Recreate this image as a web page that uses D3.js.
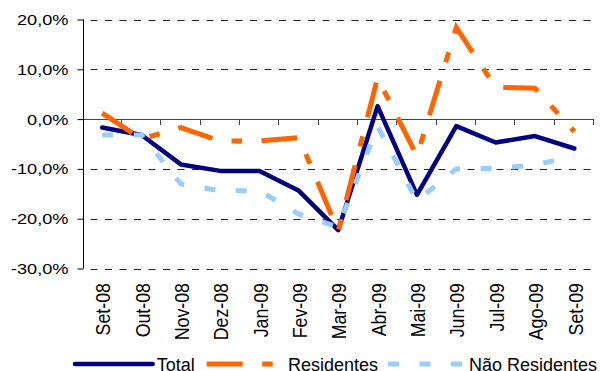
<!DOCTYPE html>
<html>
<head>
<meta charset="utf-8">
<script src="https://cdn.jsdelivr.net/npm/d3@7"></script>
<style>
  html, body { margin: 0; padding: 0; background: #fff; }
  svg { display: block; }
  text { font-family: "Liberation Sans", Arial, sans-serif; fill: #000; }
</style>
</head>
<body>
<svg id="chart" width="600" height="371"></svg>
<script>
// Monthly categories (Set-08 .. Set-09)
const months = ["Set-08", "Out-08", "Nov-08", "Dez-08", "Jan-09", "Fev-09", "Mar-09",
                "Abr-09", "Mai-09", "Jun-09", "Jul-09", "Ago-09", "Set-09"];

// Year-on-year change, in percent
const total          = [-1.7, -3.2, -9.1, -10.4, -10.4, -14.4, -22.3, 2.6, -15.2, -1.4, -4.7, -3.4, -5.9];
const residentes     = [1.2, -4.0, -1.7, -4.4, -4.4, -3.7, -22.5, 8.3, -7.4, 18.4, 6.4, 6.2, -2.5];
const naoResidentes  = [-3.2, -3.2, -13.0, -14.4, -14.4, -19.1, -21.7, -1.5, -16.4, -10.0, -9.9, -9.2, -7.4];

// Value axis ticks
const yTicks = [20, 10, 0, -10, -20, -30];
const yTickLabels = ["20,0%", "10,0%", "0,0%", "-10,0%", "-20,0%", "-30,0%"];

const seriesNames = ["Total", "Residentes", "Não Residentes"];

const svg = d3.select("#chart");

const x = d3.scaleBand().domain(months).range([82.5, 594]).paddingInner(0).paddingOuter(0);
const y = d3.scaleLinear().domain([-30, 20]).range([268.5, 19.5]);
const cx = d => x(d) + x.bandwidth() / 2;

const styles = [
  { color: "#000080", width: 4.5, dash: null, cap: "round" },
  { color: "#FF6600", width: 5, dash: "36,19.5,10.5,19.5", cap: "butt" },
  { color: "#99CCFF", width: 5, dash: "11,20.5", cap: "butt" }
];

// Dashed horizontal gridlines
svg.append("g")
  .selectAll("line")
  .data(yTicks.filter(v => v !== 0))
  .join("line")
  .attr("x1", 83.5).attr("x2", 594)
  .attr("y1", d => Math.round(y(d)) + 0.5).attr("y2", d => Math.round(y(d)) + 0.5)
  .attr("stroke", "#222").attr("stroke-width", 1)
  .attr("stroke-dasharray", "7,7.5").attr("stroke-dashoffset", 7.5);

// Value axis
const yAxis = d3.axisLeft(y).tickValues(yTicks).tickSize(6).tickFormat("");
const gy = svg.append("g").attr("transform", "translate(83.5,0)").call(yAxis);
gy.select(".domain").attr("stroke", "#000").attr("d", `M0,${y(20)}V${y(-30)}`);
gy.selectAll(".tick line").attr("stroke", "#000");

svg.append("g")
  .selectAll("text")
  .data(yTicks)
  .join("text")
  .attr("transform", d => `translate(68.5,${y(d)}) scale(1.18,1)`)
  .attr("text-anchor", "end")
  .attr("dy", "0.36em")
  .style("font-size", "15.4px")
  .text((d, i) => yTickLabels[i]);

// Category axis along the zero line, ticks between categories
const y0 = Math.round(y(0)) + 0.5;
svg.append("line")
  .attr("x1", 83.5).attr("x2", 594).attr("y1", y0).attr("y2", y0)
  .attr("stroke", "#444").attr("stroke-width", 1);
const boundaries = months.map(m => x(m)).concat([x.range()[1]]);
svg.append("g")
  .selectAll("line")
  .data(boundaries.slice(1))
  .join("line")
  .attr("x1", d => Math.round(d) - 0.5).attr("x2", d => Math.round(d) - 0.5)
  .attr("y1", y0).attr("y2", y0 + 5.5)
  .attr("stroke", "#444").attr("stroke-width", 1);

// Rotated category labels
svg.append("g")
  .selectAll("text")
  .data(months)
  .join("text")
  .attr("transform", d => `translate(${cx(d) + 1},283) scale(1.12,1) rotate(-90)`)
  .attr("text-anchor", "end")
  .attr("dy", "0.36em")
  .style("font-size", "17.8px")
  .text(d => d);

// Series lines
const allSeries = [total, residentes, naoResidentes];
const line = d3.line().x((d, i) => cx(months[i])).y(d => y(d));
allSeries.forEach((vals, k) => {
  const s = styles[k];
  svg.append("path")
    .datum(vals)
    .attr("fill", "none")
    .attr("stroke", s.color)
    .attr("stroke-width", s.width)
    .attr("stroke-linejoin", k === 0 ? "round" : "miter")
    .attr("stroke-linecap", s.cap)
    .attr("stroke-dasharray", s.dash)
    .attr("d", line);
});

// Legend along the bottom edge
const legend = [
  { x1: 75, x2: 152.7, tx: 156.7 },
  { x1: 206.7, x2: 273, tx: 288 },
  { x1: 388, x2: 462, tx: 469 }
];
legend.forEach((l, k) => {
  const s = styles[k];
  svg.append("line")
    .attr("x1", l.x1).attr("x2", l.x2).attr("y1", 364).attr("y2", 364)
    .attr("stroke", s.color).attr("stroke-width", s.width)
    .attr("stroke-linecap", s.cap)
    .attr("stroke-dasharray", s.dash);
  svg.append("text")
    .attr("x", l.tx).attr("y", 370.5)
    .style("font-size", "18px")
    .text(seriesNames[k]);
});
</script>
</body>
</html>
